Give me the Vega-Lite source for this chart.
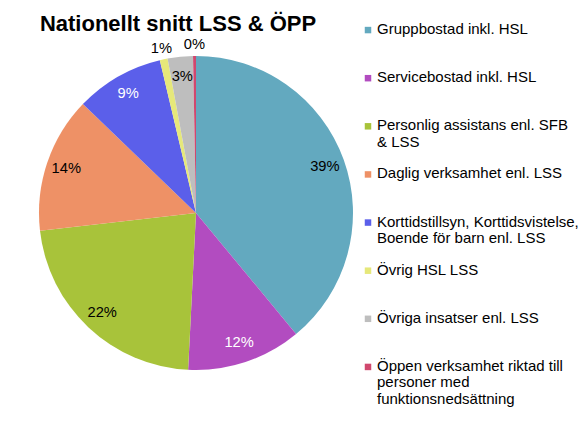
{
  "$schema": "https://vega.github.io/schema/vega-lite/v6.json",
  "padding": {"left": 36, "top": 6, "right": 0, "bottom": 0},
  "background": "white",
  "config": {"view": {"stroke": null}, "font": "Liberation Sans"},
  "title": {"text": "Nationellt snitt LSS & ÖPP", "anchor": "start", "fontSize": 22, "fontWeight": "bold", "font": "Liberation Sans", "color": "#000000", "dx": 3, "offset": -30},
  "datasets": {
    "shares": [
      {"cat": "Gruppbostad inkl. HSL", "legend": "Gruppbostad inkl. HSL", "order": 1, "share": 0.390},
      {"cat": "Servicebostad inkl. HSL", "legend": "Servicebostad inkl. HSL", "order": 2, "share": 0.118},
      {"cat": "Personlig assistans enl. SFB & LSS", "legend": "Personlig assistans enl. SFB\n& LSS", "order": 3, "share": 0.224},
      {"cat": "Daglig verksamhet enl. LSS", "legend": "Daglig verksamhet enl. LSS", "order": 4, "share": 0.140},
      {"cat": "Korttidstillsyn, Korttidsvistelse, Boende för barn enl. LSS", "legend": "Korttidstillsyn, Korttidsvistelse,\nBoende för barn enl. LSS", "order": 5, "share": 0.091},
      {"cat": "Övrig HSL LSS", "legend": "Övrig HSL LSS", "order": 6, "share": 0.008},
      {"cat": "Övriga insatser enl. LSS", "legend": "Övriga insatser enl. LSS", "order": 7, "share": 0.026},
      {"cat": "Öppen verksamhet riktad till personer med funktionsnedsättning", "legend": "Öppen verksamhet riktad till\npersoner med\nfunktionsnedsättning", "order": 8, "share": 0.003}
    ]
  },
  "spacing": 12,
  "bounds": "flush",
  "hconcat": [
    {
      "width": 314,
      "height": 414,
      "data": {"name": "shares"},
      "encoding": {
        "theta": {"field": "share", "type": "quantitative", "stack": true},
        "order": {"field": "order", "type": "quantitative"},
        "color": {
          "field": "cat", "type": "nominal", "legend": null,
          "scale": {
            "domain": ["Gruppbostad inkl. HSL", "Servicebostad inkl. HSL", "Personlig assistans enl. SFB & LSS", "Daglig verksamhet enl. LSS", "Korttidstillsyn, Korttidsvistelse, Boende för barn enl. LSS", "Övrig HSL LSS", "Övriga insatser enl. LSS", "Öppen verksamhet riktad till personer med funktionsnedsättning"],
            "range": ["#63A9BF", "#B24CC0", "#A8C33A", "#EE9166", "#5B5FEA", "#E6E87A", "#BEBEBE", "#D0486E"]
          }
        }
      },
      "layer": [
        {"mark": {"type": "arc", "outerRadius": 157, "stroke": null}},
        {
          "mark": {"type": "text", "radius": 137, "fontSize": 14.7, "font": "Liberation Sans"},
          "encoding": {
            "text": {"field": "share", "type": "quantitative", "format": ".0%", "condition": {"test": "datum.share < 0.01", "value": ""}},
            "color": {
              "condition": {"test": "datum.order == 2 || datum.order == 5", "value": "#FFFFFF"},
              "value": "#000000"
            }
          }
        },
        {
          "mark": {"type": "text", "radius": 168, "fontSize": 14.7, "font": "Liberation Sans"},
          "encoding": {
            "text": {"field": "share", "type": "quantitative", "format": ".0%", "condition": {"test": "datum.share >= 0.01", "value": ""}},
            "color": {"value": "#000000"}
          }
        }
      ]
    },
    {
      "width": 6,
      "height": 385,
      "data": {"name": "shares"},
      "encoding": {
        "y": {"field": "cat", "type": "nominal", "sort": {"field": "order"}, "axis": null, "scale": {"type": "band", "paddingInner": 0, "paddingOuter": 0}}
      },
      "layer": [
        {
          "mark": {"type": "point", "shape": "square", "filled": true, "size": 42, "opacity": 1},
          "encoding": {
            "color": {
              "field": "cat", "type": "nominal", "legend": null,
              "scale": {
                "domain": ["Gruppbostad inkl. HSL", "Servicebostad inkl. HSL", "Personlig assistans enl. SFB & LSS", "Daglig verksamhet enl. LSS", "Korttidstillsyn, Korttidsvistelse, Boende för barn enl. LSS", "Övrig HSL LSS", "Övriga insatser enl. LSS", "Öppen verksamhet riktad till personer med funktionsnedsättning"],
                "range": ["#63A9BF", "#B24CC0", "#A8C33A", "#EE9166", "#5B5FEA", "#E6E87A", "#BEBEBE", "#D0486E"]
              }
            }
          }
        },
        {
          "mark": {"type": "text", "align": "left", "baseline": "top", "dx": 9, "dy": -8, "fontSize": 15, "lineHeight": 16.5, "lineBreak": "\n", "font": "Liberation Sans", "color": "#000000"},
          "encoding": {"text": {"field": "legend", "type": "nominal"}}
        }
      ]
    }
  ]
}
